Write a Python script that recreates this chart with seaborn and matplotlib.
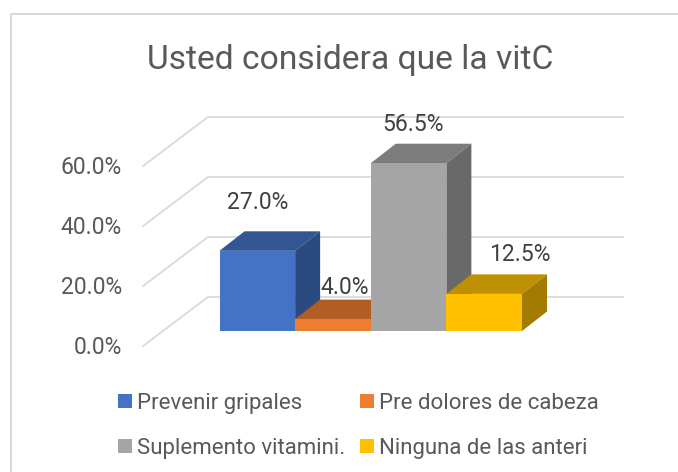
"""
plot.py — Gráfico de barras "3D" (estilo Excel) sobre la vitamina C.
"""

import matplotlib
matplotlib.use("Agg")
import matplotlib.pyplot as plt
import matplotlib.transforms as mtransforms
from matplotlib.patches import Polygon
import pandas as pd
import seaborn as sns

# ---------------------------------------------------------------------------
# Datos
# ---------------------------------------------------------------------------

TITLE = "Usted considera que la vitC"
CATEGORIES = [
    "Prevenir gripales",
    "Pre dolores de cabeza",
    "Suplemento vitamini.",
    "Ninguna de las anteri",
]
VALUES = [27.0, 4.0, 56.5, 12.5]
AXIS_TICKS = [0, 20, 40, 60]

# ---------------------------------------------------------------------------
# Estilo
# ---------------------------------------------------------------------------

FRONT_COLORS = ["#4472C4", "#ED7D31", "#A5A5A5", "#FFC000"]
TOP_COLORS   = ["#335593", "#B25E22", "#7C7C7C", "#BF9000"]
SIDE_COLORS  = ["#2A4A80", "#9A5220", "#696969", "#A37B00"]
GRID_COLOR   = "#D9D9D9"
TEXT_COLOR   = "#595959"
LABEL_COLOR  = "#404040"

WIDTH, HEIGHT = 678, 472
BAR_LEFT, BAR_RIGHT = 219.5, 522.0   # px
BASE_Y = 331.0                       # px
PX_PER_UNIT = 2.97                   # px por punto porcentual
DEPTH_X, DEPTH_Y = 25.0, 19.5        # px
LABEL_OFFSETS = [(0, 48), (12, 32), (4, 39), (36, 39)]  # px desde el tope

# ---------------------------------------------------------------------------
# Figura
# ---------------------------------------------------------------------------

sns.set_theme(style="white")
plt.rcParams["font.family"] = ["Roboto", "DejaVu Sans"]

fig = plt.figure(figsize=(WIDTH / 100, HEIGHT / 100), dpi=100)
ax = fig.add_axes([0, 0, 1, 1])

px_per_cat = (BAR_RIGHT - BAR_LEFT) / len(CATEGORIES)

# coordenadas en píxeles de la imagen (origen arriba a la izquierda)
px = mtransforms.Affine2D().scale(1, -1).translate(0, HEIGHT)

# marco exterior: sólo se ven el borde superior y el izquierdo
ax.plot([10.5, 10.5, WIDTH], [HEIGHT, 13.5, 13.5], color="#D9D9D9", lw=1.5,
        transform=px, clip_on=False, zorder=0)

# paredes: líneas de rejilla y etiquetas del eje
for tick in AXIS_TICKS:
    y_back = 297 - tick * 3.0
    ax.plot([143, 208, 623], [y_back + 49, y_back, y_back], color=GRID_COLOR,
            lw=1.3, transform=px, zorder=1)
    ax.text(122, y_back + 51, f"{tick:.1f}%", transform=px, ha="right", va="center",
            fontsize=16.5, color=TEXT_COLOR)

ax.text(350.5, 60, TITLE, transform=px, ha="center", va="center",
        fontsize=24.2, color=TEXT_COLOR)

# barras: la cara frontal la dibuja seaborn, arriba y lateral se derivan de ella
df = pd.DataFrame({"categoria": CATEGORIES, "valor": VALUES})
sns.barplot(
    data=df, x="categoria", y="valor", hue="categoria", order=CATEGORIES,
    hue_order=CATEGORIES, palette=FRONT_COLORS, width=1.0, dodge=False,
    saturation=1, linewidth=0, legend=True, ax=ax,
)
ax.set_xlim(-0.5 - BAR_LEFT / px_per_cat, -0.5 + (WIDTH - BAR_LEFT) / px_per_cat)
ax.set_ylim(-(HEIGHT - BASE_Y) / PX_PER_UNIT, BASE_Y / PX_PER_UNIT)
ax.axis("off")

dx = DEPTH_X / px_per_cat
dy = DEPTH_Y / PX_PER_UNIT
bars = [c[0] for c in ax.containers]
for i, bar in enumerate(bars):
    x0, x1 = bar.get_x(), bar.get_x() + bar.get_width()
    h = bar.get_height()
    z = 3 + i * 3
    bar.set_zorder(z + 1)
    ax.add_patch(Polygon([(x0, h), (x1, h), (x1 + dx, h + dy), (x0 + dx, h + dy)],
                         fc=TOP_COLORS[i], ec="none", zorder=z))
    ax.add_patch(Polygon([(x1, 0), (x1 + dx, dy), (x1 + dx, h + dy), (x1, h)],
                         fc=SIDE_COLORS[i], ec="none", zorder=z))
    off_x, off_y = LABEL_OFFSETS[i]
    ax.annotate(
        f"{VALUES[i]:.1f}%", (bar.get_x() + bar.get_width() / 2, h),
        xytext=(off_x * 0.72, off_y * 0.72), textcoords="offset points",
        ha="center", va="center", fontsize=16.5, color=LABEL_COLOR, zorder=30,
    )

# la leyenda se llena por columnas; se reordena para leerla por filas
handles, labels = ax.get_legend_handles_labels()
order = [0, 2, 1, 3]
ax.legend(
    [handles[i] for i in order], [labels[i] for i in order],
    loc="upper left", bbox_to_anchor=(118 / WIDTH, 1 - 393 / HEIGHT), ncols=2,
    frameon=False, fontsize=16, labelcolor=TEXT_COLOR, handlelength=0.63,
    handleheight=0.63, handletextpad=0.23, columnspacing=0.68, labelspacing=1.08,
    borderpad=0, borderaxespad=0,
)

fig.savefig("out.png", dpi=100)
plt.close(fig)
